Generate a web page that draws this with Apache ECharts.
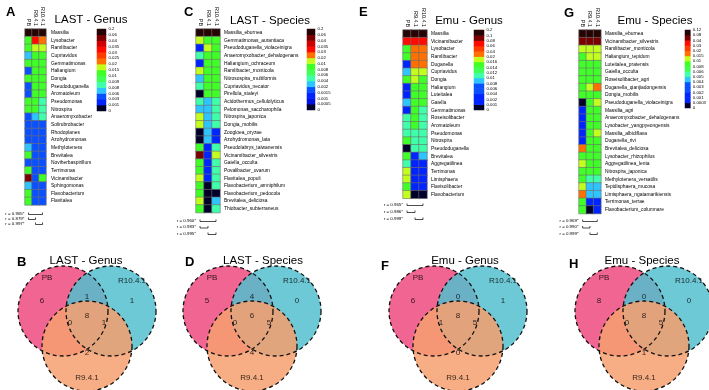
<!DOCTYPE html>
<html><head><meta charset="utf-8">
<script src="https://cdn.jsdelivr.net/npm/echarts@6/dist/echarts.min.js"></script>
<style>html,body{margin:0;padding:0;background:#fff}#c{width:709px;height:390px}</style>
</head><body><div id="c"></div>
<script>
const FONT = '"Liberation Sans", Arial, Helvetica, sans-serif';
const samples = ['PB', 'R9.4.1', 'R10.4.1'];

// ---------- A: LAST - Genus ----------
const lastGenusTaxa = ['Massilia','Lysobacter','Ramlibacter','Cupriavidus','Gemmatimonas','Haliangium','Dongia','Pseudoduganella','Aromatoleum','Pseudomonas','Nitrospira','Anaeromyxobacter','Solirubrobacter','Rhodoplanes','Azohydromonas','Methylotenera','Brevitalea','Noviherbaspirillum','Terrimonas','Vicinamibacter','Sphingomonas','Flavobacterium','Flavitalea'];
const lastGenusPB  = [0.12,0.012,0.012,0.007,0.012,0.004,0.012,0.004,0.004,0.011,0.011,0.004,0.004,0.004,0.004,0.007,0.011,0.004,0.011,0.05,0.007,0.011,0.011];
const lastGenusR9  = [0.15,0.032,0.017,0.012,0.012,0.012,0.012,0.012,0.011,0.011,0.011,0.007,0.004,0.004,0.004,0.004,0.004,0.004,0.004,0.004,0.004,0.004,0.004];
const lastGenusR10 = [0.14,0.022,0.017,0.012,0.012,0.012,0.011,0.011,0.011,0.0085,0.0085,0.0085,0.004,0.004,0.004,0.004,0.004,0.004,0.004,0.011,0.004,0.004,0.004];
const lastGenusBreaks = [0.2,0.06,0.04,0.035,0.03,0.025,0.02,0.015,0.01,0.009,0.008,0.006,0.003,0.001,0];
const lastGenusR = ['r = 0.965*','r = 0.879*','r = 0.997*'];

// ---------- C: LAST - Species ----------
const lastSpeciesTaxa = ['Massilia_eburnea','Gemmatimonas_aurantiaca','Pseudoduganella_violaceinigra','Anaeromyxobacter_dehalogenans','Haliangium_ochraceum','Ramlibacter_monticola','Nitrosospira_multiformis','Cupriavidus_necator','Pirellula_staleyi','Acidothermus_cellulolyticus','Pelomonas_saccharophila','Nitrospira_japonica','Dongia_mobilis','Zoogloea_oryzae','Azohydromonas_lata','Pseudolabrys_taiwanensis','Vicinamibacter_silvestris','Gaiella_occulta','Povalibacter_uvarum','Flavitalea_populi','Flavobacterium_amniphilum','Flavobacterium_pedocola','Brevitalea_deliciosa','Thiobacter_subterraneus'];
const lastSpeciesPB  = [0.1,0.015,0.0012,0.005,0.0012,0.015,0.003,0.005,0.0002,0.005,0.003,0.015,0.015,0.0002,0.0002,0.009,0.05,0.009,0.009,0.015,0.009,0.009,0.015,0.009];
const lastSpeciesR9  = [0.12,0.009,0.015,0.009,0.009,0.009,0.009,0.009,0.009,0.003,0.003,0.003,0.003,0.003,0.003,0.0012,0.0012,0.0012,0.0012,0.0012,0.0002,0.0002,0.0002,0.0002];
const lastSpeciesR10 = [0.12,0.009,0.009,0.009,0.009,0.009,0.009,0.009,0.009,0.005,0.005,0.005,0.005,0.0012,0.0012,0.005,0.015,0.005,0.005,0.005,0.005,0.0002,0.003,0.005];
const lastSpeciesBreaks = [0.2,0.06,0.04,0.035,0.03,0.02,0.01,0.008,0.006,0.004,0.002,0.0015,0.001,0.0005,0];
const lastSpeciesR = ['r = 0.960*','r = 0.983*','r = 0.995*'];

// ---------- E: Emu - Genus ----------
const emuGenusTaxa = ['Massilia','Vicinamibacter','Lysobacter','Ramlibacter','Duganella','Cupriavidus','Dongia','Haliangium','Luteitalea','Gaiella','Gemmatimonas','Roseisolibacter','Aromatoleum','Pseudomonas','Nitrospira','Pseudoduganella','Brevitalea','Aggregatilinea','Terrimonas','Limisphaera','Flavisolibacter','Flavobacterium'];
const emuGenusPB  = [0.15,0.07,0.015,0.015,0.003,0.009,0.015,0.003,0.003,0.009,0.003,0.011,0.011,0.011,0.015,0.0005,0.015,0.011,0.018,0.018,0.015,0.018];
const emuGenusR9  = [0.15,0.07,0.03,0.03,0.03,0.018,0.018,0.015,0.015,0.015,0.015,0.015,0.015,0.011,0.011,0.011,0.003,0.003,0.003,0.003,0.003,0.0005];
const emuGenusR10 = [0.15,0.07,0.03,0.03,0.03,0.018,0.015,0.015,0.015,0.015,0.011,0.011,0.011,0.011,0.011,0.011,0.009,0.003,0.003,0.003,0.003,0.0005];
const emuGenusBreaks = [0.2,0.1,0.08,0.06,0.04,0.02,0.016,0.014,0.012,0.01,0.008,0.006,0.004,0.002,0.001,0];
const emuGenusR = ['r = 0.965*','r = 0.986*','r = 0.999*'];

// ---------- G: Emu - Species ----------
const emuSpeciesTaxa = ['Massilia_eburnea','Vicinamibacter_silvestris','Ramlibacter_monticola','Haliangium_tepidum','Luteitalea_pratensis','Gaiella_occulta','Roseisolibacter_agri','Duganella_qianjiadongensis','Dongia_mobilis','Pseudoduganella_violaceinigra','Massilia_agri','Anaeromyxobacter_dehalogenans','Lysobacter_yangpyeongensis','Massilia_albidiflava','Duganella_rivi','Brevitalea_deliciosa','Lysobacter_rhizophilus','Aggregatilinea_lenta','Nitrospira_japonica','Methylotenera_versatilis','Tepidisphaera_mucosa','Limisphaera_ngatamarikiensis','Terrimonas_terrae','Flavobacterium_columnare'];
const emuSpeciesPB  = [0.1,0.05,0.012,0.009,0.009,0.009,0.009,0.009,0.009,0.0002,0.0015,0.0015,0.0015,0.0015,0.0015,0.017,0.009,0.012,0.009,0.009,0.012,0.017,0.009,0.009];
const emuSpeciesR9  = [0.1,0.05,0.012,0.012,0.009,0.009,0.009,0.012,0.009,0.009,0.009,0.009,0.009,0.009,0.009,0.009,0.009,0.009,0.009,0.0055,0.0045,0.0045,0.0015,0.0002];
const emuSpeciesR10 = [0.1,0.05,0.012,0.012,0.009,0.009,0.009,0.017,0.009,0.012,0.009,0.009,0.009,0.012,0.009,0.009,0.009,0.009,0.009,0.0055,0.0045,0.0045,0.0015,0.0015];
const emuSpeciesBreaks = [0.12,0.08,0.04,0.03,0.02,0.015,0.01,0.008,0.006,0.005,0.004,0.003,0.002,0.001,0.0003,0];
const emuSpeciesR = ['r = 0.969*','r = 0.990*','r = 0.999*'];

// ---------- Venn counts: [PB only, R10 only, R9 only, PB&R10, PB&R9, R10&R9, all] ----------
const vennLastGenus   = [6,1,2,1,0,1,8];
const vennLastSpecies = [5,0,4,4,0,5,6];
const vennEmuGenus    = [6,1,0,0,1,5,8];
const vennEmuSpecies  = [8,0,1,0,0,5,8];
const vennSets = ['PB','R10.4.1','R9.4.1'];

// ---------- colour keys (top to bottom) ----------
const DARK='#260404', DRED='#7a0000', RED1='#d00000', RED='#ff0a00', ORR='#ff3c00', ORA='#ff7000',
      YG='#c2ff1e', GRN='#40ff28', GRN2='#40ff55', AQ='#40ffaa', LB='#2ec4ff', BLU='#0a50ff', BLU2='#0024ff', BLU3='#0010e0', NAVY='#00002a';
const lastGenusColors   = [DARK,DRED,RED1,RED,ORR,ORA,YG,GRN,GRN2,AQ,LB,BLU,BLU2,NAVY];
const lastSpeciesColors = [DARK,DRED,RED1,RED,ORA,YG,GRN,GRN2,AQ,LB,BLU,BLU2,BLU3,NAVY];
const emuGenusColors    = [DARK,DRED,RED,ORR,ORA,YG,GRN,GRN2,AQ,LB,BLU,BLU,BLU2,BLU2,NAVY];
const emuSpeciesColors  = [DARK,DRED,RED,ORR,ORA,YG,GRN,GRN2,AQ,LB,BLU,BLU,BLU2,BLU2,NAVY];

const option = {animation:false, textStyle:{fontFamily:FONT}, title:[], grid:[], xAxis:[], yAxis:[], series:[], visualMap:[], graphic:[]};

function heatPanel(p) {
  const rows = p.taxa.length;
  const gi = option.grid.length;
  option.grid.push({left:p.left, top:p.top, width:p.cellW*3, height:p.cellH*rows});
  const xi = option.xAxis.length;
  option.xAxis.push({type:'category', gridIndex:gi, data:samples, position:'top',
    axisLine:{show:false}, axisTick:{show:false}, splitLine:{show:false},
    axisLabel:{rotate:90, fontSize:5.4, margin:3, color:'#000', interval:0, fontFamily:FONT}});
  const yi = option.yAxis.length;
  option.yAxis.push({type:'category', gridIndex:gi, data:p.taxa, inverse:true, position:'right',
    axisLine:{show:false}, axisTick:{show:false}, splitLine:{show:false},
    axisLabel:{fontSize:4.9, margin:p.labelMargin, color:'#000', interval:0, fontFamily:FONT}});
  const data = [];
  p.taxa.forEach((t,i)=>{ data.push([0,i,p.pb[i]],[1,i,p.r9[i]],[2,i,p.r10[i]]); });
  const si = option.series.length;
  option.series.push({type:'heatmap', xAxisIndex:xi, yAxisIndex:yi, data,
    itemStyle:{borderColor:'#6e6e6e', borderWidth:0.6}, emphasis:{disabled:true}});

  // colour key
  const asc = p.breaks.slice().reverse();
  const cols = p.colors.slice().reverse();
  const n = asc.length - 1;
  const gl = option.grid.length;
  option.grid.push({left:p.legLeft, top:p.top, width:p.legW, height:p.legH});
  const lx = option.xAxis.length;
  option.xAxis.push({type:'category', gridIndex:gl, data:[''], show:false});
  const ly = option.yAxis.length;
  option.yAxis.push({type:'category', gridIndex:gl, data:asc.slice(0,n).map(String), show:false});
  option.yAxis.push({type:'value', gridIndex:gl, min:0, max:n, interval:1, position:'right',
    axisLine:{show:false}, axisTick:{show:false}, splitLine:{show:false},
    axisLabel:{fontSize:4.3, margin:2.5, color:'#000', formatter:v=>String(asc[v]), showMinLabel:true, showMaxLabel:true, fontFamily:FONT}});
  const ls = option.series.length;
  option.series.push({type:'heatmap', xAxisIndex:lx, yAxisIndex:ly,
    data:asc.slice(0,n).map((b,i)=>[0,i,(asc[i]+asc[i+1])/2]),
    itemStyle:{borderWidth:0}, emphasis:{disabled:true}});
  option.visualMap.push({type:'piecewise', show:false, dimension:2, seriesIndex:[si, ls],
    pieces:cols.map((c,i)=>i===n-1?{gte:asc[i], lte:asc[i+1]*10, color:c}:{gte:asc[i], lt:asc[i+1], color:c})});

  // titles
  option.title.push({text:p.letter, left:p.letterX, top:p.letterY, textStyle:{fontSize:13, fontWeight:'bold', color:'#000', fontFamily:FONT}});
  option.graphic.push({type:'text', x:p.titleX, y:p.titleY, style:{text:p.title, font:'11.5px '+FONT, fill:'#000', align:'center', verticalAlign:'middle'}});

  // correlation brackets
  const cx = i => p.left + p.cellW*(i+0.5);
  const pairs = [[0,2],[0,1],[1,2]];
  pairs.forEach((pr,k)=>{
    const y = p.rY + k*p.rDy;
    option.graphic.push({type:'polyline', shape:{points:[[cx(pr[0]),y-2],[cx(pr[0]),y],[cx(pr[1]),y],[cx(pr[1]),y-2]]}, style:{stroke:'#000', lineWidth:0.7, fill:null}});
    option.graphic.push({type:'text', x:cx(0)-4, y:y-1, style:{text:p.r[k], font:'4.4px '+FONT, fill:'#000', align:'right', verticalAlign:'middle'}});
  });
}

heatPanel({letter:'A', letterX:1, letterY:1, title:'LAST - Genus', titleX:91, titleY:20,
  taxa:lastGenusTaxa, pb:lastGenusPB, r9:lastGenusR9, r10:lastGenusR10, breaks:lastGenusBreaks, colors:lastGenusColors,
  left:25, top:29, cellW:7, cellH:7.65, labelMargin:5, legLeft:97, legW:9, legH:82, r:lastGenusR, rY:214.5, rDy:5});
heatPanel({letter:'C', letterX:179, letterY:1, title:'LAST - Species', titleX:270, titleY:21,
  taxa:lastSpeciesTaxa, pb:lastSpeciesPB, r9:lastSpeciesR9, r10:lastSpeciesR10, breaks:lastSpeciesBreaks, colors:lastSpeciesColors,
  left:196, top:29, cellW:8, cellH:7.65, labelMargin:4, legLeft:307, legW:8, legH:81, r:lastSpeciesR, rY:221.5, rDy:6.5});
heatPanel({letter:'E', letterX:354, letterY:1, title:'Emu - Genus', titleX:469, titleY:21,
  taxa:emuGenusTaxa, pb:emuGenusPB, r9:emuGenusR9, r10:emuGenusR10, breaks:emuGenusBreaks, colors:emuGenusColors,
  left:403, top:30, cellW:8, cellH:7.65, labelMargin:4, legLeft:474, legW:10, legH:80, r:emuGenusR, rY:205.5, rDy:7});
heatPanel({letter:'G', letterX:559, letterY:2, title:'Emu - Species', titleX:655, titleY:21,
  taxa:emuSpeciesTaxa, pb:emuSpeciesPB, r9:emuSpeciesR9, r10:emuSpeciesR10, breaks:emuSpeciesBreaks, colors:emuSpeciesColors,
  left:579, top:30, cellW:7.3, cellH:7.65, labelMargin:4, legLeft:685, legW:9, legH:78, r:emuSpeciesR, rY:221.5, rDy:6.5});

// ---------- Venn diagrams on a pixel-unit canvas grid ----------
const vg = option.grid.length;
option.grid.push({left:0, top:0, width:709, height:390});
const vx = option.xAxis.length;
option.xAxis.push({type:'value', gridIndex:vg, min:0, max:709, show:false});
const vy = option.yAxis.length;
option.yAxis.push({type:'value', gridIndex:vg, min:0, max:390, inverse:true, show:false});

const setColors = ['#ee4a80','#55bfd0','#f7a070'];
function venn(v) {
  const c = [[v.cx-24, v.cy],[v.cx+24, v.cy],[v.cx, v.cy+35]];
  const r = 45;
  c.forEach((pt,i)=>{
    option.series.push({type:'scatter', xAxisIndex:vx, yAxisIndex:vy, silent:true, symbolSize:2*r,
      data:[pt], itemStyle:{color:setColors[i], opacity:0.85}});
  });
  option.series.push({type:'scatter', xAxisIndex:vx, yAxisIndex:vy, silent:true, symbolSize:2*r,
    data:c, itemStyle:{color:'rgba(0,0,0,0)', borderColor:'#111', borderWidth:1.3, borderType:[4,3], opacity:1}});
  const pos = [[v.cx-45, v.cy-10],[v.cx+45, v.cy-10],[v.cx, v.cy+42],[v.cx, v.cy-14],[v.cx-17, v.cy+12],[v.cx+17, v.cy+12],[v.cx, v.cy+5]];
  option.series.push({type:'scatter', xAxisIndex:vx, yAxisIndex:vy, silent:true, symbolSize:0,
    data:pos.map((p,i)=>({value:p, label:{show:true, formatter:String(v.counts[i]), fontSize:8, color:'#000', position:'inside', fontFamily:FONT}}))});
  const lpos = [[v.cx-40, v.cy-33],[v.cx+45, v.cy-30],[v.cx, v.cy+67]];
  option.series.push({type:'scatter', xAxisIndex:vx, yAxisIndex:vy, silent:true, symbolSize:0,
    data:lpos.map((p,i)=>({value:p, label:{show:true, formatter:vennSets[i], fontSize:8, color:'#000', position:'inside', fontFamily:FONT}}))});
  option.title.push({text:v.letter, left:v.letterX, top:v.letterY, textStyle:{fontSize:13, fontWeight:'bold', color:'#000', fontFamily:FONT}});
  option.graphic.push({type:'text', x:v.titleX, y:260.5, style:{text:v.title, font:'11.5px '+FONT, fill:'#000', align:'center', verticalAlign:'middle'}});
}
venn({letter:'B', letterX:12, letterY:251, title:'LAST - Genus', titleX:86, cx:87, cy:311, counts:vennLastGenus});
venn({letter:'D', letterX:180, letterY:251, title:'LAST - Species', titleX:263, cx:252, cy:311, counts:vennLastSpecies});
venn({letter:'F', letterX:376, letterY:255, title:'Emu - Genus', titleX:465, cx:458, cy:311, counts:vennEmuGenus});
venn({letter:'H', letterX:564, letterY:253, title:'Emu - Species', titleX:642, cx:644, cy:311, counts:vennEmuSpecies});

const chart = echarts.init(document.getElementById('c'), null, {renderer:'canvas'});
chart.setOption(option);
</script></body></html>
